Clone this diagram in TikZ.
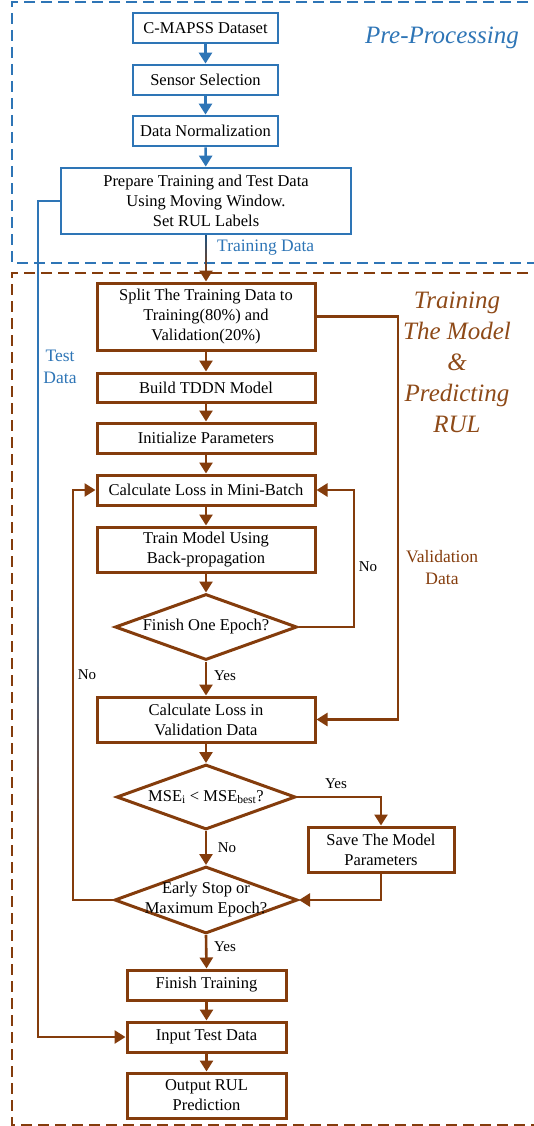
\documentclass[tikz,border=0pt]{standalone}
\usepackage{fontspec}
\setmainfont{Liberation Serif}
\usetikzlibrary{shapes.geometric,arrows.meta}
\definecolor{cblue}{HTML}{2E75B6}
\definecolor{cbrown}{HTML}{843C0C}
\definecolor{tbrown}{HTML}{8E4A18}
\begin{document}
\begin{tikzpicture}[x=1pt,y=-1pt,
  bbox/.style={draw=cbrown,line width=3pt,inner sep=0pt,align=center,font=\fontsize{16.5}{20}\selectfont},
  bluebox/.style={bbox,draw=cblue,line width=2.8pt},
  dia/.style={diamond,draw=cbrown,line width=3pt,inner sep=0pt,
    label={[font=\fontsize{16.5}{20}\selectfont,align=center]center:#1}},
  arr/.style={draw=cbrown,line width=2.6pt,-{Triangle[length=11pt,width=13pt]}},
  barr/.style={draw=cblue,line width=2.6pt,-{Triangle[length=11pt,width=13pt]}},
  yn/.style={font=\fontsize{15}{18}\selectfont,inner sep=0pt},
  side/.style={font=\fontsize{17.5}{22}\selectfont,align=center,inner sep=0pt},
  frame/.style={line width=2pt,dash pattern=on 11pt off 6pt},
  ttl/.style={font=\fontsize{25}{31}\selectfont\itshape,align=center,inner sep=0pt}
]
\useasboundingbox (0,0) rectangle (533,1126);
% frames
\draw[frame,cblue] (545,2) -- (12,2) -- (12,263) -- (545,263);
\draw[frame,cbrown] (545,273) -- (12,273) -- (12,1125) -- (545,1125);
\node[ttl,text=cblue] (t1) at (442,38) {Pre-Processing};
\node[ttl,text=tbrown] (t2) at (457,362) {Training\\The Model\\\&\\Predicting\\RUL};

% preprocessing nodes
\node[bluebox,minimum width=145pt,minimum height=30pt] (c1) at (205.5,28) {C-MAPSS Dataset};
\node[bluebox,minimum width=145pt,minimum height=30pt] (c2) at (205.5,80) {Sensor Selection};
\node[bluebox,minimum width=145pt,minimum height=30pt] (c3) at (205.5,131) {Data Normalization};
\node[bluebox,minimum width=290pt,minimum height=66pt] (prep) at (206,201) {Prepare Training and Test Data\\Using Moving Window.\\Set RUL Labels};

% training nodes
\node[bbox,minimum width=218pt,minimum height=67pt] (split) at (206,316.5) {Split The Training Data to\\Training(80\%) and\\Validation(20\%)};
\node[bbox,minimum width=218pt,minimum height=29pt] (build) at (206,387.5) {Build TDDN Model};
\node[bbox,minimum width=218pt,minimum height=30pt] (init) at (206,438) {Initialize Parameters};
\node[bbox,minimum width=218pt,minimum height=30pt] (mini) at (206,490) {Calculate Loss in Mini-Batch};
\node[bbox,minimum width=218pt,minimum height=45pt] (train) at (206,549.5) {Train Model Using\\Back-propagation};
\node[dia={Finish One Epoch?},minimum width=182pt,minimum height=66pt] (d1) at (206,627) {};
\node[bbox,minimum width=218pt,minimum height=45pt] (val) at (206,719.5) {Calculate Loss in\\Validation Data};
\node[dia={MSE\textsubscript{i} < MSE\textsubscript{best}?},minimum width=179pt,minimum height=65pt] (d2) at (206,797) {};
\node[bbox,minimum width=146pt,minimum height=45pt] (save) at (381,849.5) {Save The Model\\Parameters};
\node[dia={Early Stop or\\Maximum Epoch?},minimum width=183pt,minimum height=67pt] (d3) at (206,900) {};
\node[bbox,minimum width=159pt,minimum height=30pt] (fin) at (206.5,985) {Finish Training};
\node[bbox,minimum width=159pt,minimum height=30pt] (inp) at (206.5,1037) {Input Test Data};
\node[bbox,minimum width=159pt,minimum height=45pt] (out) at (206.5,1095.5) {Output RUL\\Prediction};

% helper coordinates
\coordinate (tx) at (38,0);
\coordinate (nx) at (354,0);
\coordinate (vx) at (398,0);
\coordinate (lx) at (73,0);

% preprocessing arrows
\draw[barr] (c1) -- (c2);
\draw[barr] (c2) -- (c3);
\draw[barr] (c3) -- (prep);

% training data arrow with gradient
\draw[arr] (prep.south) -- (split.north);
\foreach \i in {0,...,9} {
  \pgfmathtruncatemacro\p{100-10*\i}
  \draw[line width=2.6pt,color=cblue!70!black!\p!cbrown] (206,235+3.6*\i) -- (206,238.8+3.6*\i);
}
\node[side,text=cblue,anchor=west] (tdl) at (217,248) {Training Data};

% test data line with gradient
\draw[arr] (prep.west) -- (prep.west -| tx) |- (inp.west);
\draw[line width=2.6pt,cblue] (prep.west) -- (prep.west -| tx) -- (38,560);
\foreach \i in {0,...,19} {
  \pgfmathtruncatemacro\p{100-5*\i}
  \draw[line width=2.6pt,color=cblue!\p!cbrown] (38,559+16*\i) -- (38,576+16*\i);
}
\node[side,text=cblue] (tdata) at (60,367) {Test\\Data};

% main flow
\draw[arr] (split) -- (build);
\draw[arr] (build) -- (init);
\draw[arr] (init) -- (mini);
\draw[arr] (mini) -- (train);
\draw[arr] (train) -- (d1);
\draw[arr] (d1.south) -- (val.north);
\draw[arr] (val) -- (d2);
\draw[arr] (d2.south) -- (d3.north);
\draw[arr] (d3.south) -- (fin.north);
\draw[arr] (fin) -- (inp);
\draw[arr] (inp) -- (out);

% loops
\draw[arr] (d1.east) -- (d1.east -| nx) |- (mini.east);
\draw[arr] (split.east) -- (split.east -| vx) |- (val.east);
\draw[arr] (d2.east) -| (save.north);
\draw[arr] (save.south) |- (d3.east);
\draw[arr] (d3.west) -- (d3.west -| lx) |- (mini.west);

% labels
\node[yn] (l1) at (225,676) {Yes};
\node[yn] (l2) at (368,567) {No};
\node[yn] (l3) at (336,784) {Yes};
\node[yn] (l4) at (227,848) {No};
\node[yn] (l5) at (87,675) {No};
\node[yn] (l6) at (225,947) {Yes};
\node[side,text=cbrown] (vdl) at (442,568) {Validation\\Data};
\end{tikzpicture}
\end{document}
